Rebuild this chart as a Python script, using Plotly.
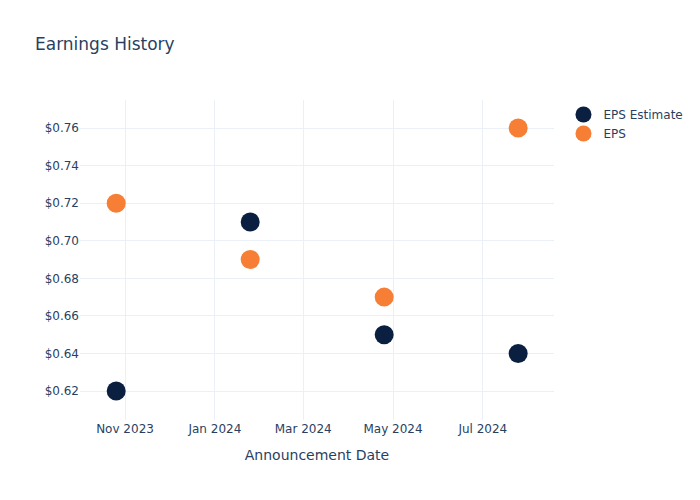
import plotly.graph_objects as go

dates = ["2023-10-26", "2024-01-25", "2024-04-25", "2024-07-25"]
eps_estimate = [0.62, 0.71, 0.65, 0.64]
eps_actual = [0.72, 0.69, 0.67, 0.76]

fig = go.Figure()
fig.add_trace(go.Scatter(x=dates, y=eps_estimate, mode="markers", name="EPS Estimate",
                         marker=dict(color="#0b1f40", size=19)))
fig.add_trace(go.Scatter(x=dates, y=eps_actual, mode="markers", name="EPS",
                         marker=dict(color="#f77f35", size=19)))
fig.update_layout(
    template="plotly_white",
    width=700, height=500,
    font=dict(family="DejaVu Sans"),
    title=dict(text="Earnings History"),
    xaxis=dict(title=dict(text="Announcement Date"),
               range=["2023-10-01 10:00", "2024-08-18 08:00"]),
    yaxis=dict(tickprefix="$", tickformat=".2f", range=[0.6046, 0.7749]),
)
fig.write_html("out.html", config={"displayModeBar": False},
               post_script="document.body.style.margin='0';")
